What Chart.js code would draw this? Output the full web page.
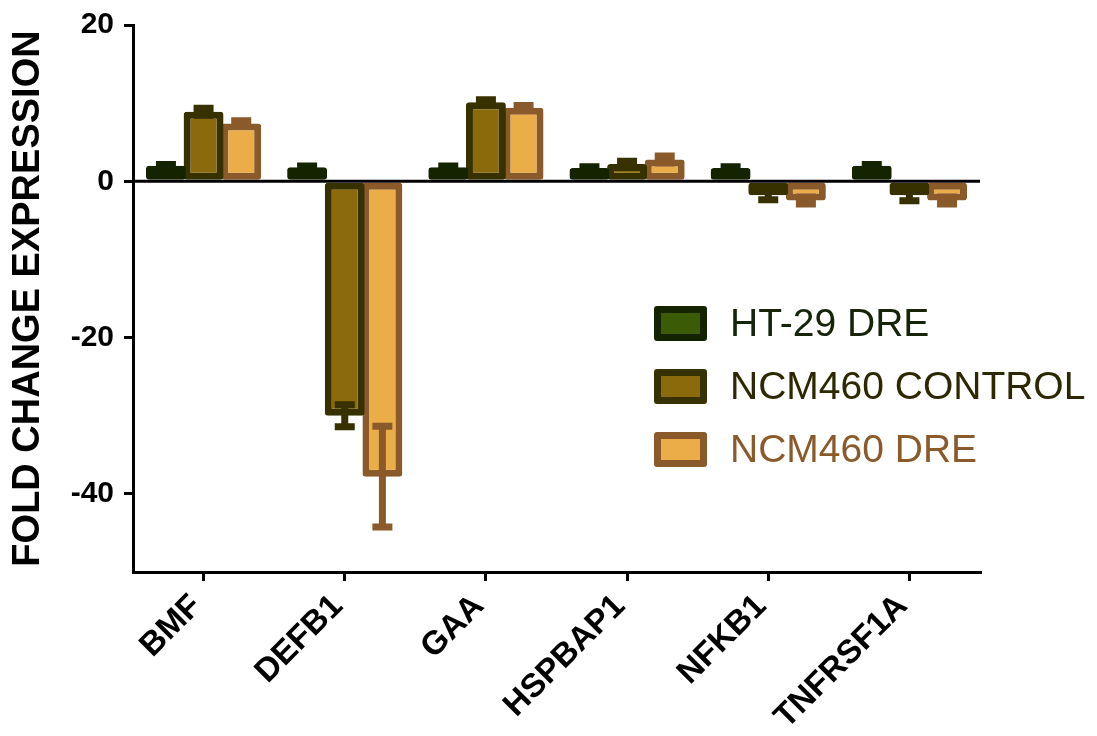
<!DOCTYPE html>
<html>
<head>
<meta charset="utf-8">
<script src="https://cdn.jsdelivr.net/npm/chart.js@4"></script>
<style>
  html, body { margin: 0; padding: 0; background: #fff; }
  #wrap { width: 1097px; height: 736px; }
</style>
</head>
<body>
<div id="wrap"><canvas id="graficaGenes"></canvas></div>
<script>
// genes y series
var genes = ["BMF", "DEFB1", "GAA", "HSPBAP1", "NFKB1", "TNFRSF1A"];
var ht29Dre = [2.0, 1.8, 1.8, 1.7, 1.7, 2.0];
var ncmControl = [8.9, -30.0, 10.1, 2.2, -1.8, -1.8];
var ncmDre = [7.4, -37.8, 9.4, 2.8, -2.45, -2.45];
// error (SEM)
var ht29Err = [0.15, 0.15, 0.15, 0.15, 0.15, 0.15];
var ncmControlErr = [0.45, 1.4, 0.35, 0.35, 0.55, 0.7];
var ncmDreErr = [0.35, 6.45, 0.3, 0.45, 0.45, 0.45];
var yTicks = [20, 0, -20, -40];

var errores = [ht29Err, ncmControlErr, ncmDreErr];
var coloresTexto = ["#16240a", "#2c2800", "#8b5a2b"];

// barras de error + linea del cero + leyenda
var extras = {
    id: "extras",
    afterDatasetsDraw: function (chart) {
        var c = chart.ctx;
        var y = chart.scales.y;
        var area = chart.chartArea;
        chart.data.datasets.forEach(function (ds, d) {
            var meta = chart.getDatasetMeta(d);
            c.save();
            c.strokeStyle = ds.borderColor;
            c.lineWidth = 7;
            meta.data.forEach(function (bar, i) {
                var v = ds.data[i], e = errores[d][i];
                var y1 = y.getPixelForValue(v - e), y2 = y.getPixelForValue(v + e);
                c.beginPath();
                c.moveTo(bar.x, y1); c.lineTo(bar.x, y2);
                c.moveTo(bar.x - 10, y1); c.lineTo(bar.x + 10, y1);
                c.moveTo(bar.x - 10, y2); c.lineTo(bar.x + 10, y2);
                c.stroke();
            });
            c.restore();
        });
        var y0 = y.getPixelForValue(0);
        c.save();
        c.strokeStyle = "#000";
        c.lineWidth = 3;
        c.beginPath();
        c.moveTo(area.left, y0); c.lineTo(area.right, y0);
        c.stroke();
        c.restore();
    },
    afterDraw: function (chart) {
        var c = chart.ctx;
        var area = chart.chartArea;
        var x0 = area.right - 326, top = area.top + 298;
        chart.data.datasets.forEach(function (ds, d) {
            var cy = top + d * 63;
            c.save();
            c.fillStyle = ds.borderColor;
            c.beginPath();
            c.roundRect(x0, cy - 17, 53, 35, 3);
            c.fill();
            c.fillStyle = ds.backgroundColor;
            c.fillRect(x0 + 7, cy - 10, 39, 21);
            c.fillStyle = coloresTexto[d];
            c.font = "39px 'Liberation Sans', Arial, sans-serif";
            c.textBaseline = "middle";
            c.fillText(ds.label, x0 + 76, cy + 2);
            c.restore();
        });
    }
};

var ctx = document.getElementById("graficaGenes").getContext("2d");
var chart = new Chart(ctx, {
    type: "bar",
    data: {
        labels: genes,
        datasets: [{
            label: "HT-29 DRE",
            data: ht29Dre,
            backgroundColor: "#3b5b07",
            borderColor: "#152400",
            borderWidth: 7,
            borderSkipped: false,
            borderRadius: 3
        }, {
            label: "NCM460 CONTROL",
            data: ncmControl,
            backgroundColor: "#8a6a0a",
            borderColor: "#373100",
            borderWidth: 7,
            borderSkipped: false,
            borderRadius: 3
        }, {
            label: "NCM460 DRE",
            data: ncmDre,
            backgroundColor: "#eaad48",
            borderColor: "#8b5a2b",
            borderWidth: 7,
            borderSkipped: false,
            borderRadius: 3
        }]
    },
    options: {
        responsive: true,
        maintainAspectRatio: false,
        animation: false,
        categoryPercentage: 0.8,
        barPercentage: 1.06,
        layout: { padding: { top: 25, right: 117, left: 6, bottom: 0 } },
        plugins: {
            legend: { display: false },
            tooltip: { enabled: false }
        },
        scales: {
            x: {
                grid: {
                    offset: false,
                    drawOnChartArea: false,
                    color: "#000",
                    lineWidth: 3,
                    tickLength: 9
                },
                border: { color: "#000", width: 3 },
                ticks: {
                    color: "#000",
                    minRotation: 45,
                    maxRotation: 45,
                    padding: 6,
                    labelOffset: -7,
                    font: { family: "'Liberation Sans', Arial, sans-serif", size: 33, weight: "bold" }
                },
                afterFit: function (scale) { scale.height = 164; }
            },
            y: {
                min: -50,
                max: 20,
                afterBuildTicks: function (scale) {
                    scale.ticks = yTicks.map(function (v) { return { value: v }; });
                },
                grid: {
                    drawOnChartArea: false,
                    color: "#000",
                    lineWidth: 3,
                    tickLength: 9
                },
                border: { color: "#000", width: 3 },
                ticks: {
                    color: "#000",
                    padding: 10,
                    font: { family: "'Liberation Sans', Arial, sans-serif", size: 30, weight: "bold" }
                },
                title: {
                    display: true,
                    text: "FOLD CHANGE EXPRESSION",
                    color: "#000",
                    padding: { top: 0, bottom: 2 },
                    font: { family: "'Liberation Sans', Arial, sans-serif", size: 38, weight: "bold" }
                },
                afterFit: function (scale) {
                    scale.width = 127;
                    scale.paddingTop = 0;
                    scale.paddingBottom = 0;
                }
            }
        }
    },
    plugins: [extras]
});
</script>
</body>
</html>
